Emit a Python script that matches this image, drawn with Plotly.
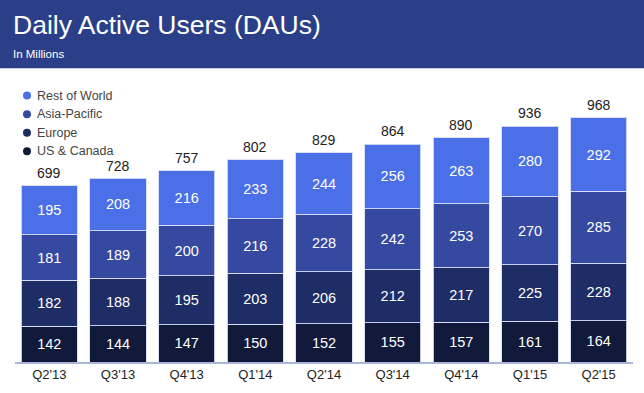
import plotly.graph_objects as go

quarters = ["Q2'13", "Q3'13", "Q4'13", "Q1'14", "Q2'14", "Q3'14", "Q4'14", "Q1'15", "Q2'15"]
us_canada = [142, 144, 147, 150, 152, 155, 157, 161, 164]
europe = [182, 188, 195, 203, 206, 212, 217, 225, 228]
asia_pacific = [181, 189, 200, 216, 228, 242, 253, 270, 285]
rest_of_world = [195, 208, 216, 233, 244, 256, 263, 280, 292]
totals = [699, 728, 757, 802, 829, 864, 890, 936, 968]

series = [
    ("US & Canada", us_canada, "#111a3b"),
    ("Europe", europe, "#1f2d66"),
    ("Asia-Pacific", asia_pacific, "#3549a0"),
    ("Rest of World", rest_of_world, "#4a6fe6"),
]

W, H = 644, 393
ML, MR, MT, MB = 15, 11, 80, 24
PW, PH = W - ML - MR, H - MT - MB


def px_x(px):
    return (px - ML) / PW


def px_y(py):
    return (H - MB - py) / PH


FONT = "Liberation Sans, Arial, Helvetica, sans-serif"

fig = go.Figure()
for name, vals, color in series:
    fig.add_trace(go.Bar(
        x=quarters, y=vals, name=name, showlegend=False,
        marker=dict(color=color, line=dict(color="rgba(215,222,245,0.9)", width=1)),
        text=[str(v) for v in vals], textposition="inside", insidetextanchor="middle",
        textfont=dict(color="white", size=14.5, family=FONT),
        hoverinfo="skip",
    ))

# totals above the stacks
for q, t in zip(quarters, totals):
    fig.add_annotation(x=q, y=t, text=str(t), showarrow=False, yanchor="bottom", yshift=3,
                       font=dict(color="#222222", size=14, family=FONT))

# custom legend (top to bottom)
legend_y = [96, 115, 134, 153]
for (name, vals, color), ly in zip(reversed(series), legend_y):
    fig.add_shape(type="circle", xref="paper", yref="paper",
                  xsizemode="pixel", ysizemode="pixel",
                  xanchor=px_x(27), yanchor=px_y(ly),
                  x0=-4, x1=4, y0=-4, y1=4,
                  fillcolor=color, line=dict(width=0))
    fig.add_annotation(xref="paper", yref="paper", x=px_x(35), y=px_y(ly),
                       xanchor="left", yanchor="middle", showarrow=False, text=name,
                       font=dict(size=12.5, color="#444444", family=FONT))

# header band
fig.add_shape(type="rect", xref="paper", yref="paper",
              x0=px_x(-5), x1=px_x(W + 5), y0=px_y(68), y1=px_y(-5),
              fillcolor="#2a3f87", line=dict(width=0), layer="below")

fig.add_annotation(xref="paper", yref="paper", x=px_x(11), y=px_y(24),
                   xanchor="left", yanchor="middle", showarrow=False,
                   text="Daily Active Users (DAUs)",
                   font=dict(color="white", size=26.5, family=FONT))
fig.add_annotation(xref="paper", yref="paper", x=px_x(11), y=px_y(53),
                   xanchor="left", yanchor="middle", showarrow=False,
                   text="In Millions",
                   font=dict(color="white", size=11.5, family=FONT))

fig.update_layout(
    width=W, height=H,
    margin=dict(l=ML, r=MR, t=MT, b=MB),
    barmode="stack", bargap=0.18,
    paper_bgcolor="white", plot_bgcolor="white",
    font=dict(family=FONT),
    showlegend=False,
    xaxis=dict(showline=True, linecolor="#a9b6d8", linewidth=1.5, ticks="",
               tickfont=dict(size=13, color="#222222", family=FONT), fixedrange=True),
    yaxis=dict(range=[0, 1119], visible=False, showgrid=False, fixedrange=True),
)

fig.write_html("out.html", config={"displayModeBar": False},
               post_script="document.body.style.margin='0';document.body.style.overflow='hidden';")
